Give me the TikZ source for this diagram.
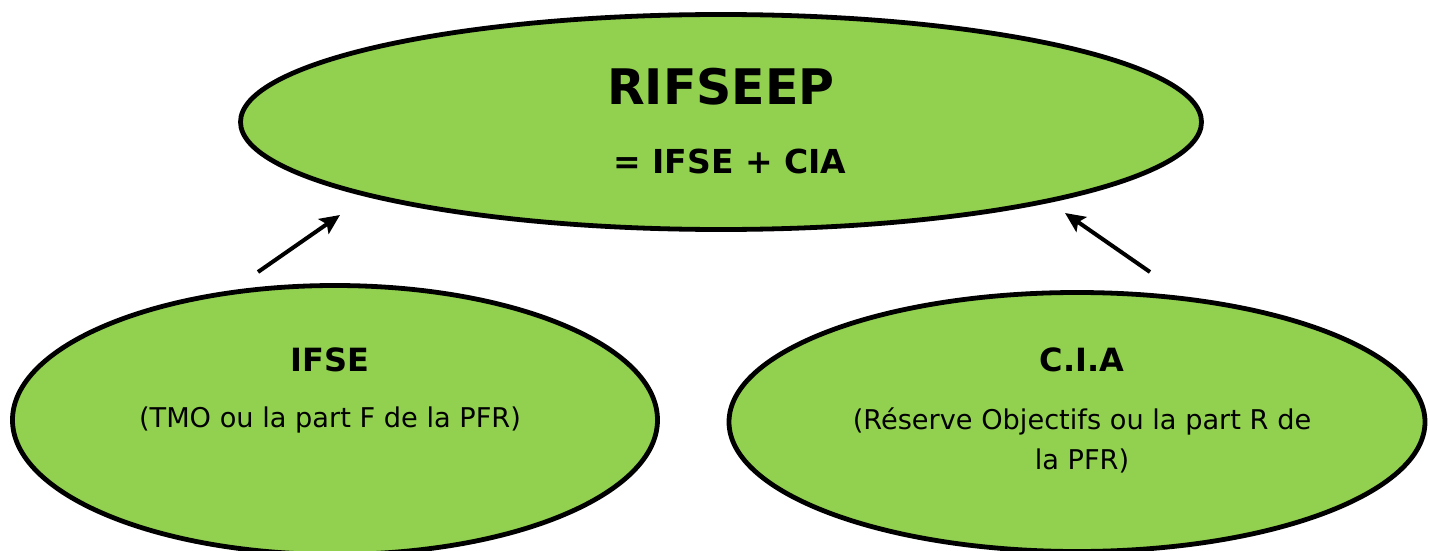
\documentclass[tikz,border=0pt]{standalone}
\usepackage{fontspec}
\setmainfont{DejaVu Sans}
\usetikzlibrary{shapes.geometric,arrows.meta}
\definecolor{leaf}{HTML}{92D050}
\tikzset{
  bubble/.style={ellipse, draw=black, line width=4.8pt, fill=leaf, inner sep=0pt},
  title/.style={font=\bfseries\fontsize{32}{38}\selectfont, inner sep=0pt},
  body/.style={font=\fontsize{27.2}{40}\selectfont, inner sep=0pt, align=center},
  push/.style={line width=4pt, -{Stealth[length=20pt,width=18pt,inset=4pt]}}
}
\begin{document}
\begin{tikzpicture}[x=1pt,y=-1pt]
\useasboundingbox (0,0) rectangle (1430,551);
\clip (0,0) rectangle (1430,551);
\node[bubble, minimum width=961pt, minimum height=215pt] (top) at (721,122) {};
\node[bubble, minimum width=645pt, minimum height=269pt] (ifse) at (335,420) {};
\node[bubble, minimum width=696pt, minimum height=259pt] (cia) at (1077,422) {};
\node[font=\bfseries\fontsize{49}{56}\selectfont, inner sep=0pt] (t1) at (721,87) {RIFSEEP};
\node[title, font=\bfseries\fontsize{33}{38}\selectfont] (t2) at (730,161) {= IFSE + CIA};
\node[title] (l1) at (330,360) {IFSE};
\node[body] (l2) at (330,420) {(TMO ou la part F de la PFR)};
\node[title] (r1) at (1082,360) {C.I.A};
\node[body] (r2) at (1082,440) {(Réserve Objectifs ou la part R de\\la PFR)};
\coordinate (la) at (258,272);
\coordinate (lb) at (340,215);
\coordinate (ra) at (1150,272);
\coordinate (rb) at (1065,213);
\draw[push] (la) -- (lb);
\draw[push] (ra) -- (rb);
\end{tikzpicture}
\end{document}
